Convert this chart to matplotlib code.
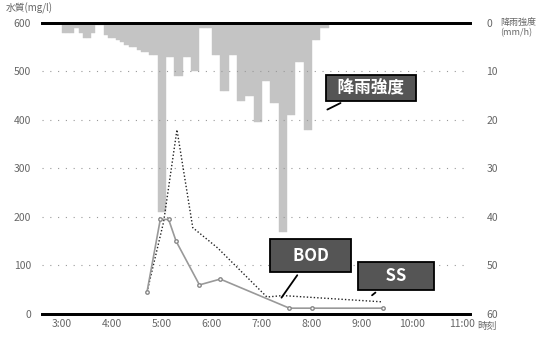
import matplotlib.pyplot as plt

plt.rcParams['font.family'] = ['Noto Sans CJK JP', 'DejaVu Sans']

# --- 降雨強度 (5分間隔, 3:00 から)
rain_start = "3:00"
rain = [2, 2, 2, 1, 2, 3, 3, 2, 0.5, 0.5, 2.5, 3, 3, 3.5, 4, 4.5,
        5, 5, 5.5, 6, 6, 6.5, 6.5, 39, 39, 7, 7, 11, 11, 7, 7, 10,
        10, 1, 1, 1, 6.5, 6.5, 14, 14, 6.5, 6.5, 16, 16, 15, 15, 20.5, 20.5,
        12, 12, 16.5, 16.5, 43, 43, 19, 19, 8, 8, 22, 22, 3.5, 3.5, 1, 1]

# --- 水質
ss_time = ["4:42", "5:02", "5:18", "5:37", "6:07", "7:06", "7:25", "9:25"]
ss_val = [45, 190, 380, 178, 136, 35, 38, 25]
bod_time = ["4:42", "4:58", "5:08", "5:17", "5:45", "6:10", "7:33", "8:00", "9:25"]
bod_val = [45, 195, 195, 150, 60, 72, 12, 12, 12]

xticks = ["3:00", "4:00", "5:00", "6:00", "7:00", "8:00", "9:00", "10:00", "11:00"]


def hour(s):
    h, m = s.split(":")
    return int(h) + int(m) / 60


fig = plt.figure(figsize=(5.6, 3.38), dpi=100)
ax = fig.add_axes([0.075, 0.071, 0.764, 0.861])
ax2 = ax.twinx()

# --- 雨 (上から下向きの棒)
t0 = hour(rain_start)
rx = [t0 + i * 5 / 60 for i in range(len(rain))]
ax2.bar(rx, rain, width=5 / 60, align='edge', color='#c4c4c4',
        edgecolor='#c4c4c4', linewidth=0.3)
ax2.set_ylim(60, 0)
ax2.set_yticks(range(0, 61, 10))
ax2.tick_params(axis='y', length=0, labelsize=7.5, labelcolor='#666666', pad=12)

# --- 水質の線
ax.plot([hour(t) for t in ss_time], ss_val, color='#222222',
        linestyle=(0, (1, 1.5)), linewidth=1.0, zorder=4)
ax.plot([hour(t) for t in bod_time], bod_val, color='#999999',
        linewidth=1.2, marker='o', markersize=2.5, markerfacecolor='white',
        markeredgecolor='#888888', zorder=4)

ax.set_zorder(ax2.get_zorder() + 1)
ax.patch.set_visible(False)

ax.set_xlim(2.6, 11.16)
ax.set_ylim(0, 600)
ax.set_yticks(range(0, 601, 100))
ax.set_xticks([hour(t) for t in xticks])
ax.set_xticklabels(xticks)
ax.tick_params(length=0, labelsize=7.5, labelcolor='#666666')
ax.tick_params(axis='y', pad=8)
for v in range(100, 600, 100):
    ax.axhline(v, color='#999999', linestyle=(0, (1, 6)), linewidth=0.8, zorder=1)

for a in (ax, ax2):
    for s in ('left', 'right'):
        a.spines[s].set_visible(False)
    a.spines['top'].set_linewidth(2)
    a.spines['bottom'].set_linewidth(2)

fig.text(0.01, 0.965, "水質(mg/l)", fontsize=7, color='#666666')
fig.text(0.893, 0.918, "降雨強度\n(mm/h)", fontsize=6.5, color='#666666',
         va='center', linespacing=1.1)
fig.text(0.852, 0.028, "時刻", fontsize=7, color='#666666')

arrow = dict(arrowstyle='-', color='black', linewidth=1.3)


def label_box(pad):
    return dict(boxstyle='square,pad=%s' % pad, facecolor='#555555',
                edgecolor='black', linewidth=1.3)


ax.annotate("  降雨強度  ", xy=(8.26, 419), xytext=(9.18, 466), ha='center',
            va='center', color='white', fontweight='bold', fontsize=12,
            bbox=label_box(0.25), arrowprops=arrow, zorder=6)
ax.annotate("    BOD    ", xy=(7.36, 29), xytext=(7.98, 120), ha='center',
            va='center', color='white', fontweight='bold', fontsize=12,
            bbox=label_box(0.45), arrowprops=arrow, zorder=6)
ax.annotate("      SS      ", xy=(9.16, 35), xytext=(9.68, 78), ha='center',
            va='center', color='white', fontweight='bold', fontsize=12,
            bbox=label_box(0.3), arrowprops=arrow, zorder=6)

plt.savefig('out.png', dpi=100)
